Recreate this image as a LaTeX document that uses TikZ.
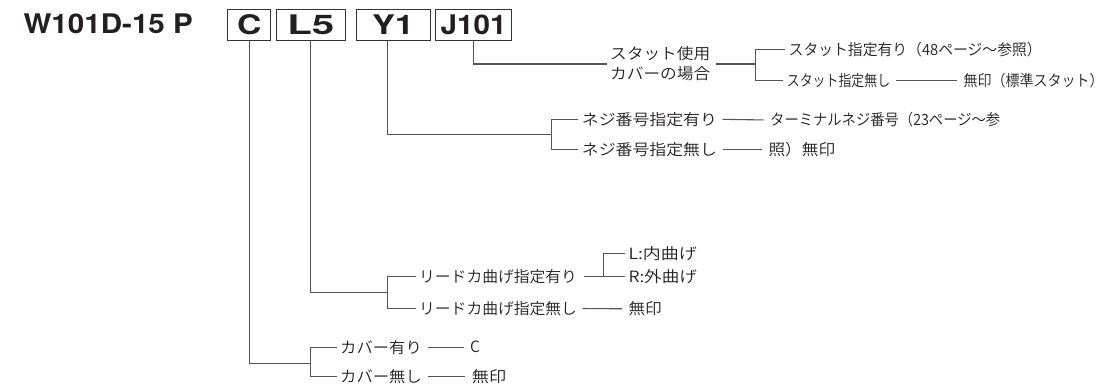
\documentclass[tikz,border=0pt]{standalone}
\usepackage{fontspec}
\usepackage{graphicx}
\setmainfont{Noto Sans CJK JP}[UprightFont=* DemiLight]
\newfontfamily\hb{TeX Gyre Heros}
\newcommand{\fw}[2]{\resizebox{#1pt}{\height}{#2}}
\definecolor{ink}{HTML}{231F20}
\definecolor{linegray}{HTML}{555555}
\definecolor{boxgray}{HTML}{333333}
\tikzset{
  conn/.style={draw=linegray, line width=1.1pt},
  trail/.style={conn, shorten <=2pt, shorten >=3pt},
  txt/.style={inner xsep=3.5pt, inner ysep=0pt, anchor=west, font=\fontsize{15.5}{18}\selectfont, text=ink},
  keybox/.style={draw=boxgray, line width=1pt, minimum height=31.4pt, inner sep=0pt, font=\hb\bfseries\fontsize{27}{27}\selectfont, text=ink},
  titletext/.style={anchor=west, inner sep=0pt, font=\hb\bfseries\fontsize{27}{27}\selectfont, text=ink}
}
\begin{document}
\begin{tikzpicture}[x=1pt,y=-1pt]
\fill[white] (0,0) rectangle (1109,391);
\useasboundingbox (0,0) rectangle (1109,391);

% title and code boxes
\node[titletext] (title) at (23.3,23.7) {\fw{169.4}{W101D-15 P}};
\node[keybox, minimum width=43pt] (bC) at (249.2,25) {\fw{24.3}{C}};
\node[keybox, minimum width=69.7pt] (bL) at (310.85,25) {\fw{47}{L5}};
\node[keybox, minimum width=74pt] (bY) at (393,25) {\fw{42}{Y1}};
\node[keybox, minimum width=76pt] (bJ) at (473.7,25) {\fw{66}{J101}};

% ---- C : cover
\coordinate (jC) at (310.7,363.3);
\draw[conn] (bC.south) |- (jC);
\node[txt] (cA) at (336.5,347.3) {\fw{81.7}{カバー有り}};
\node[txt] (cB) at (336.5,376.7) {\fw{81.7}{カバー無し}};
\draw[conn] (cA.west) -| (jC) |- (cB.west);
\node[txt] (cAv) at (466.5,347.3) {C};
\node[txt] (cBv) at (468.2,376.7) {\fw{34.3}{無印}};
\draw[trail] (cA.east) -- (cAv.west);
\draw[trail] (cB.east) -- (cBv.west);

% ---- L5 : lead bending
\coordinate (jL) at (387.7,292.3);
\draw[conn] (bL.south) |- (jL);
\node[txt] (lA) at (415.5,276.5) {\fw{157.7}{リードカ曲げ指定有り}};
\node[txt] (lB) at (415.5,308.5) {\fw{157.7}{リードカ曲げ指定無し}};
\draw[conn] (lA.west) -| (jL) |- (lB.west);
\coordinate (jL2) at (603.3,276.5);
\node[txt] (lA1) at (624.8,253.3) {\fw{68.4}{L:内曲げ}};
\node[txt] (lA2) at (624.8,276.5) {\fw{68.4}{R:外曲げ}};
\draw[conn, shorten <=3pt] (lA.east) -- (lA2.west);
\draw[conn] (jL2) |- (lA1.west);
\node[txt] (lBv) at (624.8,308.8) {\fw{33.4}{無印}};
\draw[trail] (lB.east) -- (lBv.west);

% ---- Y1 : screw number
\coordinate (jY) at (551.7,134.3);
\draw[conn] ([xshift=-5.5pt]bY.south) |- (jY);
\node[txt] (yA) at (578.2,119.3) {\fw{135}{ネジ番号指定有り}};
\node[txt] (yB) at (578.2,149.3) {\fw{135}{ネジ番号指定無し}};
\draw[conn] (yA.west) -| (jY) |- (yB.west);
\node[txt] (yAv) at (766.5,120) {\fw{230}{ターミナルネジ番号（23ページ～参}};
\node[txt] (yBv) at (764.8,149.3) {\fw{66.7}{照）無印}};
\draw[trail] (yA.east) -- (yAv.west);
\draw[trail] (yB.east) -- (yBv.west);

% ---- J101 : stud
\node[txt, align=left, font=\fontsize{15.5}{20}\selectfont] (jl) at (606.5,64) {\fw{100}{スタット使用}\\\fw{100}{カバーの場合}};
\draw[conn] (bJ.south) |- (jl.west);
\coordinate (jJ) at (755.8,64);
\draw[conn, shorten <=2pt] (jl.east) -- (jJ);
\node[txt] (sA) at (785,49.5) {\fw{253}{スタット指定有り（48ページ～参照）}};
\node[txt] (sB) at (783.2,80.3) {\fw{103.3}{スタット指定無し}};
\draw[conn] (sA.west) -| (jJ) |- (sB.west);
\node[txt] (sBv) at (960,80.3) {\fw{140}{無印（標準スタット）}};
\draw[trail] (sB.east) -- (sBv.west);
\end{tikzpicture}
\end{document}
